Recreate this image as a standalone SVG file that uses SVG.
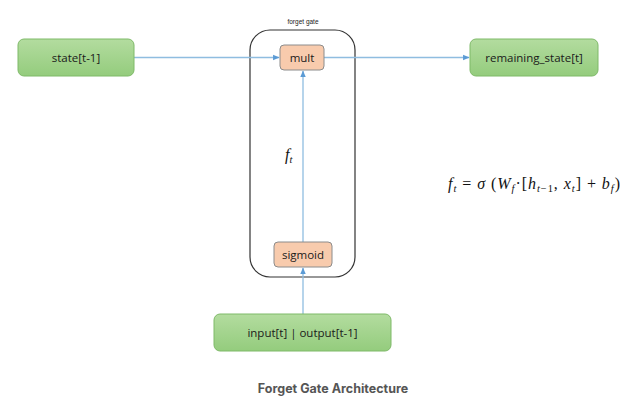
<svg xmlns="http://www.w3.org/2000/svg" width="634" height="406" viewBox="0 0 634 406">
<defs>
<linearGradient id="g" x1="0" y1="0" x2="0" y2="1">
<stop offset="0" stop-color="#b3dc9f"/>
<stop offset="1" stop-color="#94cc7d"/>
</linearGradient>
<marker id="ah" viewBox="0 0 6 6" refX="5.5" refY="3" markerWidth="5" markerHeight="5" orient="auto">
<path d="M0,0.5 L6,3 L0,5.5 z" fill="#5b9bd5"/>
</marker>
<style>
.green{fill:url(#g);stroke:#7fba69;stroke-width:1}
.orange{fill:#f8cbad;stroke:#8c8c8c;stroke-width:1}
.lbl{font-family:"Open Sans","Liberation Sans",sans-serif;font-size:11.5px;fill:#1a1a1a;text-anchor:middle}
.conn{stroke:#8fbde0;stroke-width:1.3;fill:none;marker-end:url(#ah)}
.math{font-family:"Liberation Serif","DejaVu Serif",serif;font-size:16px;fill:#111}
.sub{font-size:10.5px}
</style>
</defs>
<rect width="634" height="406" fill="#ffffff"/>
<g id="forget_gate">
<rect x="250" y="30" width="105" height="247" rx="20" fill="none" stroke="#333" stroke-width="1.2"/>
<text x="303" y="24" font-family="Liberation Sans,sans-serif" font-size="6.5" fill="#222" text-anchor="middle">forget gate</text>
</g>
<g id="connectors">
<line class="conn" x1="134" y1="57.5" x2="279" y2="57.5"/>
<line class="conn" x1="324" y1="57.5" x2="469" y2="57.5"/>
<line class="conn" x1="303" y1="242" x2="303" y2="71"/>
<line class="conn" x1="303" y1="314" x2="303" y2="268"/>
</g>
<g id="state">
<rect class="green" x="18" y="39" width="116" height="37" rx="6"/>
<text class="lbl" x="76" y="61.5">state[t-1]</text>
</g>
<g id="mult">
<rect class="orange" x="280" y="45" width="44" height="25" rx="4"/>
<text class="lbl" x="302" y="61.5">mult</text>
</g>
<g id="remaining_state">
<rect class="green" x="470" y="39" width="128" height="37" rx="6"/>
<text class="lbl" x="534" y="61.5">remaining_state[t]</text>
</g>
<g id="sigmoid">
<rect class="orange" x="274" y="242" width="58" height="25" rx="4"/>
<text class="lbl" x="303" y="258.5" font-size="11px">sigmoid</text>
</g>
<g id="input">
<rect class="green" x="214" y="314" width="177" height="37" rx="6"/>
<text class="lbl" x="302.5" y="336.5">input[t] | output[t-1]</text>
</g>
<text class="math" x="285" y="160" font-style="italic">f<tspan class="sub" dy="2.5">t</tspan></text>
<text class="math" x="448" y="189" textLength="172" lengthAdjust="spacing"><tspan font-style="italic">f</tspan><tspan font-style="italic" class="sub" dy="3">t</tspan><tspan dy="-3"> = </tspan><tspan font-style="italic">σ</tspan><tspan> (</tspan><tspan font-style="italic">W</tspan><tspan font-style="italic" class="sub" dy="3">f</tspan><tspan dy="-3">·[</tspan><tspan font-style="italic">h</tspan><tspan class="sub" dy="3"><tspan font-style="italic">t</tspan>−1</tspan><tspan dy="-3">, </tspan><tspan font-style="italic">x</tspan><tspan font-style="italic" class="sub" dy="3">t</tspan><tspan dy="-3">]  +  </tspan><tspan font-style="italic">b</tspan><tspan font-style="italic" class="sub" dy="3">f</tspan><tspan dy="-3">)</tspan></text>
<text x="333" y="393" font-family="Inter,'Liberation Sans',sans-serif" font-size="12.5" font-weight="bold" fill="#555" text-anchor="middle">Forget Gate Architecture</text>
</svg>
